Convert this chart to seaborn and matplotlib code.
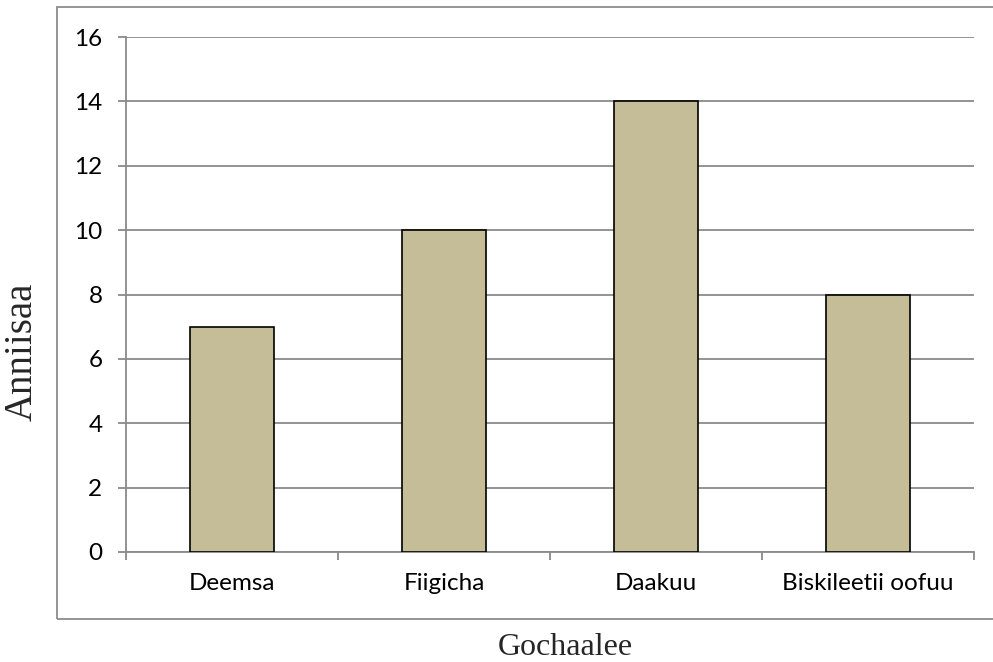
import matplotlib
matplotlib.use("Agg")
import matplotlib.pyplot as plt
import seaborn as sns
import pandas as pd
from matplotlib.patches import Rectangle
from matplotlib.ticker import FixedLocator

categories = ["Deemsa", "Fiigicha", "Daakuu", "Biskileetii oofuu"]
values = [7, 10, 14, 8]
y_ticks = [0, 2, 4, 6, 8, 10, 12, 14, 16]
x_label = "Gochaalee"
y_label = "Anniisaa"

df = pd.DataFrame({"cat": categories, "val": values})

sns.set_theme(style="white")
plt.rcParams["font.family"] = ["Lato", "DejaVu Sans"]

fig = plt.figure(figsize=(9.93, 6.62), dpi=100)
ax = fig.add_axes([126/993, 1-552/662, (974-126)/993, (552-37)/662])

sns.barplot(data=df, x="cat", y="val", color="#C4BD97", width=0.4,
            edgecolor="black", linewidth=1.2, saturation=1, ax=ax, zorder=3)

grid_c = "#8a8a8a"
ax.set_xlim(-0.5, 3.5)
ax.set_ylim(0, 16)
ax.set_yticks(y_ticks)
ax.set_yticklabels([str(t) for t in y_ticks])
ax.yaxis.grid(True, color=grid_c, linewidth=1.3, zorder=0)
ax.xaxis.grid(False)
ax.set_axisbelow(True)

for s in ["top", "right"]:
    ax.spines[s].set_visible(False)
for s in ["left", "bottom"]:
    ax.spines[s].set_color(grid_c)
    ax.spines[s].set_linewidth(1.3)

ax.tick_params(axis="y", which="major", left=True, length=6, width=1.3,
               color=grid_c, labelsize=17.5, pad=11, labelcolor="black")
ax.tick_params(axis="x", which="major", bottom=True, length=0, labelsize=17.5,
               pad=15, labelcolor="black")
ax.xaxis.set_minor_locator(FixedLocator([-0.5, 0.5, 1.5, 2.5, 3.5]))
ax.tick_params(axis="x", which="minor", bottom=True, length=6, width=1.3,
               color=grid_c)

ax.set_xlabel(x_label, fontsize=23, family=["Liberation Serif", "DejaVu Serif"],
              va="center", ha="center")
ax.xaxis.set_label_coords(0.5177, -0.1845)
ax.set_ylabel(y_label, fontsize=28, family=["Liberation Serif", "DejaVu Serif"],
              va="center", ha="center")
ax.yaxis.set_label_coords(-0.122, 0.388)

fig.patches.append(Rectangle((57/993, 1-619/662), 1.0, (619-7)/662,
                             transform=fig.transFigure, fill=False,
                             edgecolor="#8c8c8c", linewidth=1.3, zorder=-1))

fig.savefig("out.png", dpi=100)
